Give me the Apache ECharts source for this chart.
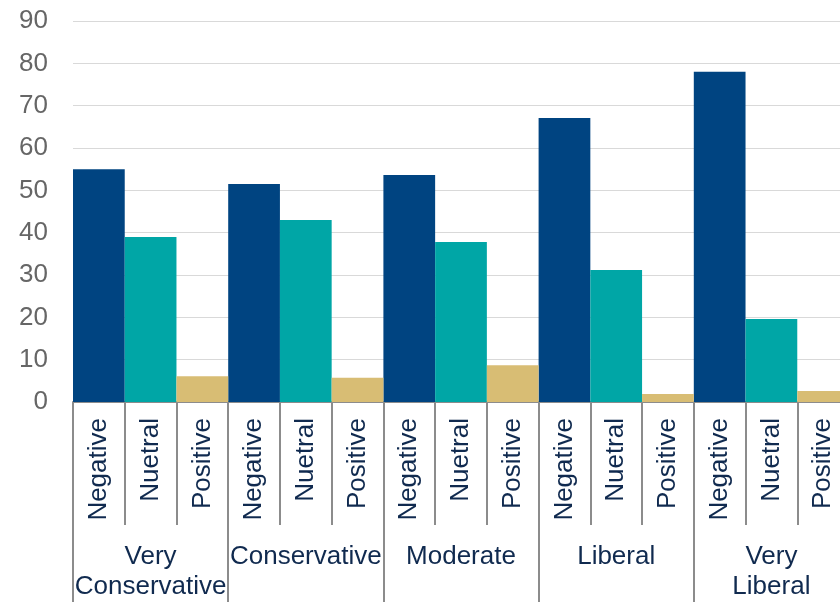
<!DOCTYPE html>
<html>
<head>
<meta charset="utf-8">
<script src="https://cdn.jsdelivr.net/npm/echarts@6/dist/echarts.min.js"></script>
<style>
html, body { margin: 0; padding: 0; background: #fff; overflow: hidden; }
#chart { width: 850px; height: 602px; }
</style>
</head>
<body>
<div id="chart"></div>
<script>
// groups and sentiment per group
const groups = ['Very\nConservative', 'Conservative', 'Moderate', 'Liberal', 'Very\nLiberal'];
const sentiments = ['Negative', 'Nuetral', 'Positive'];
const negative = [55, 51.5, 53.6, 67.1, 78];
const neutral = [39, 43, 37.8, 31.2, 19.6];
const positive = [6.1, 5.7, 8.7, 1.9, 2.6];
const yTicks = { min: 0, max: 90, interval: 10 };

const color = {
  navy: '#004481',
  teal: '#00a6a6',
  tan: '#d8bd74',
  text: '#102a4f',
  gray: '#666666',
  axis: '#8c8c8c'
};

// one category per bar, 3 per group
const cats = [];
groups.forEach(() => sentiments.forEach(s => cats.push(s)));

function spread(vals, slot) {
  const out = [];
  vals.forEach(v => {
    for (let i = 0; i < 3; i++) out.push(i === slot ? v : '-');
  });
  return out;
}

const chart = echarts.init(document.getElementById('chart'));
chart.setOption({
  animation: false,
  grid: { left: 73, right: 1, top: 21, bottom: 200 },
  xAxis: [
    {
      type: 'category',
      data: cats,
      axisLine: { show: true, lineStyle: { color: color.axis, width: 2 } },
      axisTick: { show: true, interval: 0, length: 123, lineStyle: { color: color.axis, width: 2 } },
      axisLabel: {
        interval: 0,
        rotate: 90,
        margin: 16,
        fontSize: 26,
        fontFamily: 'Liberation Sans, Arial',
        color: color.text
      }
    },
    {
      type: 'category',
      data: groups,
      position: 'bottom',
      axisLine: { show: false },
      axisTick: { show: true, interval: 0, length: 200, lineStyle: { color: color.axis, width: 2 } },
      axisLabel: {
        interval: 0,
        margin: 140,
        fontSize: 26,
        lineHeight: 30,
        fontFamily: 'Liberation Sans, Arial',
        color: color.text
      }
    }
  ],
  yAxis: {
    type: 'value',
    min: yTicks.min,
    max: yTicks.max,
    interval: yTicks.interval,
    axisLine: { show: false },
    axisTick: { show: false },
    splitLine: { lineStyle: { color: '#d9d9d9', width: 1 } },
    axisLabel: {
      margin: 25,
      fontSize: 26,
      fontFamily: 'Liberation Sans, Arial',
      color: color.gray
    }
  },
  series: [
    { name: 'Negative', type: 'bar', stack: 'all', barWidth: '100%', itemStyle: { color: color.navy }, data: spread(negative, 0) },
    { name: 'Nuetral', type: 'bar', stack: 'all', barWidth: '100%', itemStyle: { color: color.teal }, data: spread(neutral, 1) },
    { name: 'Positive', type: 'bar', stack: 'all', barWidth: '100%', itemStyle: { color: color.tan }, data: spread(positive, 2) }
  ]
});
</script>
</body>
</html>
